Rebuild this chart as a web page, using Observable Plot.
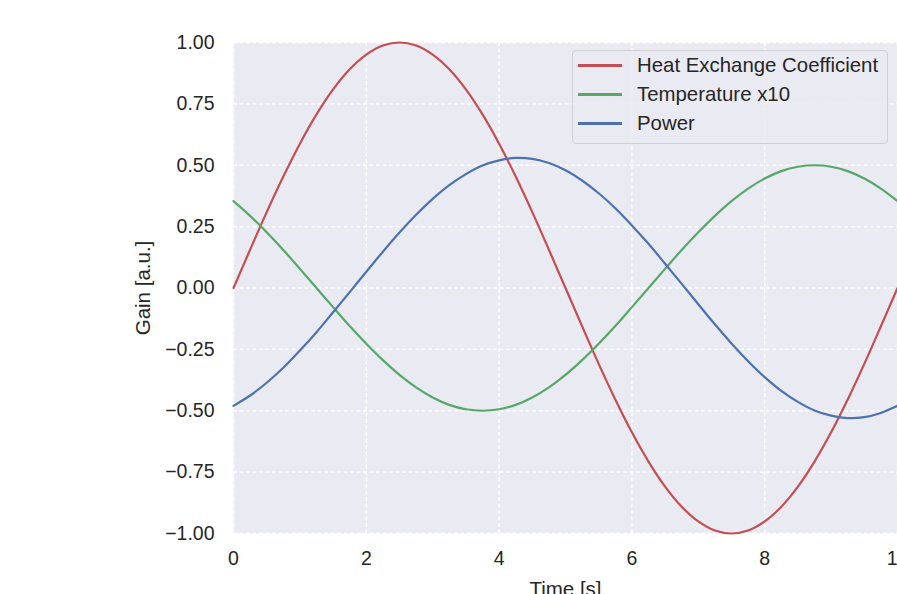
<!DOCTYPE html>
<html>
<head>
<meta charset="utf-8">
<script src="https://cdn.jsdelivr.net/npm/d3@7"></script>
<script src="https://cdn.jsdelivr.net/npm/@observablehq/plot@0.6"></script>
<style>
  body { margin: 0; background: #fff; }
  #wrap { position: relative; width: 897px; height: 594px; overflow: hidden; font-family: "Liberation Sans", Arial, sans-serif; }
  #legend { position: absolute; left: 572px; top: 50px; width: 316px; height: 94px; box-sizing: border-box;
            border: 1px solid #cfcfd4; border-radius: 4px; background: rgba(234,234,242,0.85); }
  .row { position: absolute; left: 0; height: 29px; display: flex; align-items: center; font-size: 20.4px; color: #262626; white-space: nowrap; }
  .sw { width: 44px; height: 2.2px; margin-left: 5px; margin-right: 15px; }
</style>
</head>
<body>
<div id="wrap"><div id="chart"></div><div id="legend"></div></div>
<script>
const time = [0,0.25,0.5,0.75,1,1.25,1.5,1.75,2,2.25,2.5,2.75,3,3.25,3.5,3.75,4,4.25,4.5,4.75,5,
              5.25,5.5,5.75,6,6.25,6.5,6.75,7,7.25,7.5,7.75,8,8.25,8.5,8.75,9,9.25,9.5,9.75,10];
const heatExchange = [0,0.156,0.309,0.454,0.588,0.707,0.809,0.891,0.951,0.988,1,0.988,0.951,0.891,0.809,0.707,0.588,0.454,0.309,0.156,0,
              -0.156,-0.309,-0.454,-0.588,-0.707,-0.809,-0.891,-0.951,-0.988,-1,-0.988,-0.951,-0.891,-0.809,-0.707,-0.588,-0.454,-0.309,-0.156,0];
const temperature = [0.354,0.294,0.227,0.155,0.078,0,-0.078,-0.155,-0.227,-0.294,-0.354,-0.405,-0.446,-0.476,-0.494,-0.5,-0.494,-0.476,-0.446,-0.405,-0.354,
              -0.294,-0.227,-0.155,-0.078,0,0.078,0.155,0.227,0.294,0.354,0.405,0.446,0.476,0.494,0.5,0.494,0.476,0.446,0.405,0.354];
const power = [-0.480,-0.438,-0.386,-0.325,-0.255,-0.180,-0.099,-0.017,0.066,0.148,0.226,0.298,0.363,0.419,0.464,0.499,0.520,0.530,0.526,0.509,0.480,
              0.438,0.386,0.325,0.255,0.180,0.099,0.017,-0.066,-0.148,-0.226,-0.298,-0.363,-0.419,-0.464,-0.499,-0.520,-0.530,-0.526,-0.509,-0.480];
const seriesNames = ["Heat Exchange Coefficient", "Temperature x10", "Power"];
const seriesColors = ["#C44E52", "#55A868", "#4C72B0"];
const xTicks = [0,2,4,6,8,10];
const yTicks = [-1,-0.75,-0.5,-0.25,0,0.25,0.5,0.75,1];

const seriesValues = [heatExchange, temperature, power];
const rows = [];
seriesNames.forEach((name, s) => time.forEach((t, i) => rows.push({series: name, t, v: seriesValues[s][i]})));

const chart = Plot.plot({
  width: 897, height: 594,
  marginLeft: 233, marginRight: 0, marginTop: 42, marginBottom: 61,
  style: {fontFamily: '"Liberation Sans", Arial, sans-serif', fontSize: "19.5px", color: "#262626", background: "#fff", overflow: "visible"},
  x: {domain: [0, 10], ticks: xTicks, tickFormat: d3.format("d"), label: null, tickSize: 0, tickPadding: 18},
  y: {domain: [-1, 1], ticks: yTicks, tickFormat: d3.format(".2f"), label: null, tickSize: 0, tickPadding: 19},
  color: {domain: seriesNames, range: seriesColors},
  marks: [
    Plot.frame({fill: "#EAEAF2", stroke: null}),
    Plot.gridX(xTicks, {stroke: "#fff", strokeOpacity: 1, strokeWidth: 1.3, strokeDasharray: "4,2.5"}),
    Plot.gridY(yTicks, {stroke: "#fff", strokeOpacity: 1, strokeWidth: 1.3, strokeDasharray: "4,2.5"}),
    Plot.line(rows, {x: "t", y: "v", z: "series", stroke: "series", strokeWidth: 2.2, curve: "catmull-rom"}),
    Plot.axisX(xTicks, {tickSize: 0, tickPadding: 18, tickFormat: d3.format("d"), label: null, fontSize: 19.5}),
    Plot.axisY(yTicks, {tickSize: 0, tickPadding: 19, tickFormat: d3.format(".2f"), label: null, fontSize: 19.5}),
    Plot.text(["Time [s]"], {frameAnchor: "bottom", textAnchor: "middle", lineAnchor: "bottom", dy: 62, fontSize: 20.5, fill: "#262626"}),
    Plot.text(["Gain [a.u.]"], {frameAnchor: "left", textAnchor: "middle", lineAnchor: "middle", dx: -90, rotate: -90, fontSize: 20.5, fill: "#262626"})
  ]
});
document.getElementById("chart").appendChild(chart);

const legend = document.getElementById("legend");
seriesNames.forEach((name, i) => {
  const row = document.createElement("div");
  row.className = "row";
  row.style.top = (0 + i * 29) + "px";
  const sw = document.createElement("div");
  sw.className = "sw";
  sw.style.background = seriesColors[i];
  const label = document.createElement("span");
  label.textContent = name;
  row.appendChild(sw); row.appendChild(label);
  legend.appendChild(row);
});
</script>
</body>
</html>
